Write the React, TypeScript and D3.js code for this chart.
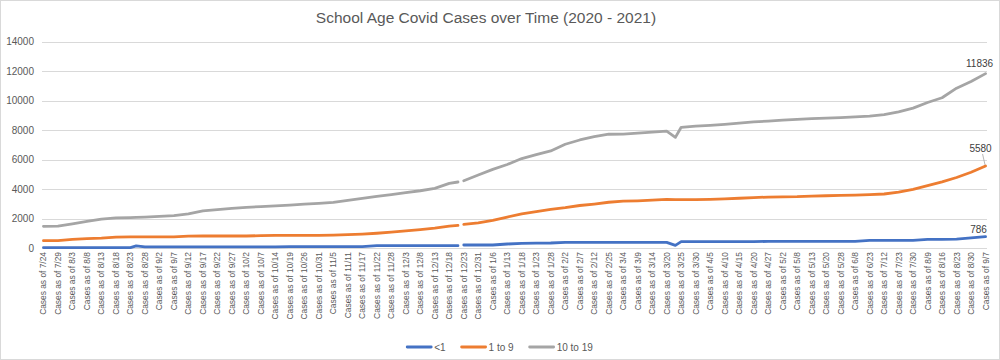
import React, { useEffect, useRef } from "react";
import * as d3 from "d3";

// labelled rows of the sheet (every 5th row gets an axis label)
const dates = [
  "7/24", "7/29", "8/3", "8/8", "8/13", "8/18", "8/23", "8/28", "9/2", "9/7",
  "9/12", "9/17", "9/22", "9/27", "10/2", "10/7", "10/14", "10/19", "10/26", "10/31",
  "11/5", "11/11", "11/17", "11/22", "11/28", "12/3", "12/8", "12/13", "12/18", "12/23",
  "12/31", "1/6", "1/13", "1/18", "1/23", "1/28", "2/2", "2/7", "2/12", "2/25",
  "3/4", "3/9", "3/14", "3/20", "3/25", "3/30", "4/5", "4/10", "4/15", "4/20",
  "4/27", "5/2", "5/8", "5/13", "5/20", "5/28", "6/8", "6/23", "7/12", "7/23",
  "7/30", "8/9", "8/16", "8/23", "8/30", "9/7",
];

const under1 = [
  50, 50, 50, 50, 50, 50, 50, 90, 90, 90,
  90, 90, 90, 90, 90, 90, 90, 110, 110, 110,
  110, 110, 110, 176, 176, 176, 176, 176, 176, 224,
  224, 224, 290, 340, 350, 360, 400, 400, 400, 400,
  400, 400, 400, 400, 450, 450, 450, 450, 450, 450,
  470, 470, 470, 470, 470, 470, 470, 540, 540, 540,
  540, 610, 610, 620, 700, 786,
];

const oneTo9 = [
  515, 515, 600, 650, 690, 760, 770, 770, 770, 770,
  830, 834, 834, 834, 834, 860, 870, 880, 880, 880,
  890, 920, 960, 1020, 1100, 1180, 1260, 1360, 1500, 1620,
  1730, 1900, 2120, 2330, 2480, 2640, 2750, 2900, 3000, 3120,
  3190, 3220, 3260, 3310, 3300, 3300, 3320, 3350, 3390, 3440,
  3470, 3490, 3500, 3540, 3560, 3590, 3610, 3640, 3680, 3800,
  3990, 4250, 4500, 4800, 5150, 5580,
];

const tenTo19 = [
  1490, 1500, 1660, 1820, 1980, 2060, 2080, 2110, 2160, 2220,
  2330, 2540, 2620, 2700, 2780, 2830, 2870, 2930, 2990, 3040,
  3110, 3240, 3380, 3520, 3640, 3780, 3900, 4060, 4400, 4580,
  4970, 5350, 5680, 6080, 6350, 6600, 7050, 7340, 7560, 7730,
  7740, 7810, 7870, 7940, 8200, 8280, 8330, 8400, 8480, 8560,
  8620, 8690, 8740, 8790, 8820, 8850, 8900, 8960, 9060, 9250,
  9500, 9880, 10200, 10850, 11300, 11836,
];

// unlabelled rows that show up in the picture (bump, blank row, dip)
const extraRows = [32, 143, 144, 218];
const extraUnder1 = [170, 176, null, 200];
const extraOneTo9 = [770, 1559, null, 3300];
const extraTenTo19 = [2090, 4493, null, 7520];

const seriesNames = ["<1", "1 to 9", "10 to 19"];
const colors = ["#4472C4", "#ED7D31", "#A5A5A5"];
const yTicks = [0, 2000, 4000, 6000, 8000, 10000, 12000, 14000];

const rowsPerLabel = 5;

type Row = { row: number; v: (number | null)[] };

function App() {
  const ref = useRef<SVGSVGElement>(null);

  useEffect(() => {
    const width = 1000;
    const height = 360;
    const font = "'Liberation Sans', Arial, sans-serif";

    const svg = d3.select(ref.current);
    svg.selectAll("*").remove();

    // chart area
    svg.append("rect")
      .attr("x", 0.5).attr("y", 0.5)
      .attr("width", width - 1).attr("height", height - 1)
      .attr("fill", "white").attr("stroke", "#d9d9d9");

    svg.append("text")
      .attr("x", 486).attr("y", 17)
      .attr("text-anchor", "middle")
      .attr("dominant-baseline", "central")
      .style("font-family", font).style("font-size", "15.5px")
      .attr("fill", "#595959")
      .text("School Age Covid Cases over Time (2020 - 2021)");

    // build the rows
    const rows: Row[] = dates.map((d, i) => ({
      row: i * rowsPerLabel,
      v: [under1[i], oneTo9[i], tenTo19[i]],
    }));
    extraRows.forEach((r, i) => {
      rows.push({ row: r, v: [extraUnder1[i], extraOneTo9[i], extraTenTo19[i]] });
    });
    rows.sort((a, b) => a.row - b.row);

    const nRows = (dates.length - 1) * rowsPerLabel + 1;
    const x = d3.scalePoint<number>()
      .domain(d3.range(nRows))
      .range([42, 987])
      .padding(0.5);
    const y = d3.scaleLinear().domain([0, 14000]).range([248.3, 41.7]);

    // gridlines + y labels
    const grid = svg.append("g");
    grid.selectAll("line")
      .data(yTicks)
      .enter()
      .append("line")
      .attr("x1", 42).attr("x2", 987)
      .attr("y1", (d) => Math.round(y(d)) + 0.5)
      .attr("y2", (d) => Math.round(y(d)) + 0.5)
      .attr("stroke", "#d9d9d9").attr("stroke-width", 1);
    grid.selectAll("text")
      .data(yTicks)
      .enter()
      .append("text")
      .attr("x", 34)
      .attr("y", (d) => y(d))
      .attr("dy", "0.35em")
      .attr("text-anchor", "end")
      .style("font-family", font).style("font-size", "10px")
      .attr("fill", "#595959")
      .text((d) => d);

    // x labels
    svg.append("g")
      .selectAll("text")
      .data(dates)
      .enter()
      .append("text")
      .attr("transform", (d, i) => "translate(" + (x(i * rowsPerLabel) as number) + ",252) rotate(-90)")
      .attr("dy", "0.35em")
      .attr("text-anchor", "end")
      .style("font-family", font).style("font-size", "8.4px")
      .attr("fill", "#595959")
      .text((d) => "Cases as of " + d);

    // lines
    seriesNames.forEach((name, k) => {
      const line = d3.line<Row>()
        .defined((r) => r.v[k] != null)
        .x((r) => x(r.row) as number)
        .y((r) => y(r.v[k] as number));
      svg.append("path")
        .datum(rows)
        .attr("d", line)
        .attr("fill", "none")
        .attr("stroke", colors[k])
        .attr("stroke-width", 2.8)
        .attr("stroke-linejoin", "round")
        .attr("stroke-linecap", "round");
    });

    // end labels
    const last = dates.length - 1;
    const lastX = x(last * rowsPerLabel) as number;
    const endVals = [under1[last], oneTo9[last], tenTo19[last]];
    const labelOffsets = [[-7, -7], [-5, -17], [-6, -10]];
    endVals.forEach((v, k) => {
      const lx = lastX + labelOffsets[k][0];
      const ly = y(v) + labelOffsets[k][1];
      if (k === 1) {
        svg.append("line")
          .attr("x1", lastX - 3).attr("y1", ly + 5)
          .attr("x2", lastX - 0.5).attr("y2", y(v) - 1)
          .attr("stroke", "#a6a6a6").attr("stroke-width", 0.8);
      }
      svg.append("text")
        .attr("x", lx).attr("y", ly)
        .attr("text-anchor", "middle")
        .attr("dominant-baseline", "central")
        .style("font-family", font).style("font-size", "10px")
        .attr("fill", "#404040")
        .text(v);
    });

    // legend
    const legend = svg.append("g");
    const items = seriesNames.map((name, k) => {
      const g = legend.append("g");
      g.append("line")
        .attr("x1", 0).attr("x2", 24)
        .attr("y1", 0).attr("y2", 0)
        .attr("stroke", colors[k]).attr("stroke-width", 2.8)
        .attr("stroke-linecap", "round");
      const t = g.append("text")
        .attr("x", 27).attr("dy", "0.35em")
        .style("font-family", font).style("font-size", "10px")
        .attr("fill", "#595959")
        .text(name);
      const w = 27 + (t.node() as SVGTextElement).getComputedTextLength();
      return { g, w };
    });
    const gap = 16;
    const total = d3.sum(items, (d) => d.w) + gap * (items.length - 1);
    let cx = 500 - total / 2;
    items.forEach((it) => {
      it.g.attr("transform", "translate(" + cx + ",347)");
      cx += it.w + gap;
    });
  }, []);

  return (
    <svg
      ref={ref}
      width={1000}
      height={360}
      style={{ position: "absolute", left: 0, top: 0, display: "block" }}
    />
  );
}

export default App;
